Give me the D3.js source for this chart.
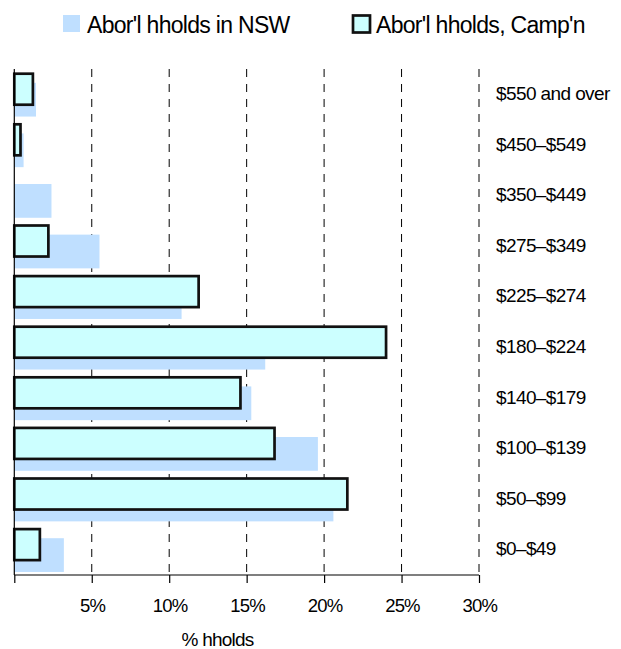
<!DOCTYPE html>
<html>
<head>
<meta charset="utf-8">
<script src="https://d3js.org/d3.v7.min.js"></script>
<style>
  body { margin: 0; background: #fff; }
  text { font-family: "Liberation Sans", Arial, sans-serif; fill: #000; }
</style>
</head>
<body>
<script>
//income bands, top to bottom
var categories = ["$550 and over", "$450–$549", "$350–$449", "$275–$349", "$225–$274",
                  "$180–$224", "$140–$179", "$100–$139", "$50–$99", "$0–$49"];

//% of households in each band
var nswValues  = [1.4, 0.6, 2.4, 5.5, 10.8, 16.2, 15.3, 19.6, 20.6, 3.2];
var campValues = [1.2, 0.4, 0, 2.2, 11.9, 24.0, 14.6, 16.8, 21.5, 1.65];

var xTicks = [0, 5, 10, 15, 20, 25, 30];
var seriesNames = ["Abor'l hholds in NSW", "Abor'l hholds, Camp'n"];

window.onload = drawChart();

function drawChart(){
    var width = 621,
        height = 649;

    var svg = d3.select("body")
        .append("svg")
        .attr("width", width)
        .attr("height", height);

    //scales
    var x = d3.scaleLinear()
        .domain([0, 30])
        .range([14.3, 479]);

    var y = d3.scaleBand()
        .domain(categories)
        .range([69, 575])
        .paddingInner(0)
        .paddingOuter(0);

    var bw = y.bandwidth();

    //dashed gridlines
    svg.selectAll(".grid")
        .data(xTicks.slice(1))
        .enter()
        .append("line")
        .attr("class", "grid")
        .attr("x1", function(d){ return x(d); })
        .attr("x2", function(d){ return x(d); })
        .attr("y1", 69)
        .attr("y2", 575)
        .style("stroke", "#000")
        .style("stroke-width", 1)
        .style("stroke-dasharray", "8,7");

    //NSW bars, behind and lower
    svg.selectAll(".nsw")
        .data(nswValues)
        .enter()
        .append("rect")
        .attr("class", "nsw")
        .attr("x", x(0))
        .attr("y", function(d, i){ return y(categories[i]) + bw * 0.273; })
        .attr("width", function(d){ return x(d) - x(0); })
        .attr("height", bw * 0.667)
        .style("fill", "#bfdfff");

    //Campbelltown bars
    var campData = campValues.map(function(v, i){ return {cat: categories[i], v: v}; })
        .filter(function(d){ return d.v > 0; });

    svg.selectAll(".camp")
        .data(campData)
        .enter()
        .append("rect")
        .attr("class", "camp")
        .attr("x", x(0))
        .attr("y", function(d){ return y(d.cat) + bw * 0.093; })
        .attr("width", function(d){ return x(d.v) - x(0); })
        .attr("height", bw * 0.613)
        .style("fill", "#ccffff")
        .style("stroke", "#111")
        .style("stroke-width", 2.7);

    //left axis line
    svg.append("line")
        .attr("x1", x(0)).attr("x2", x(0))
        .attr("y1", 69).attr("y2", 575)
        .style("stroke", "#000")
        .style("stroke-width", 1.2);

    //bottom axis
    var xAxis = d3.axisBottom(x)
        .tickValues(xTicks)
        .tickSize(8)
        .tickPadding(20)
        .tickFormat(function(d){ return d === 0 ? "" : d + "%"; });

    var gx = svg.append("g")
        .attr("transform", "translate(0,575)")
        .call(xAxis);
    gx.select(".domain").attr("d", "M" + x(0) + ",0H" + x(30)).style("stroke", "#000").style("stroke-width", 1.2);
    gx.selectAll(".tick line").style("stroke", "#000").style("stroke-width", 1.2);
    gx.selectAll(".tick text")
        .style("font-family", "Liberation Sans, Arial, sans-serif")
        .style("font-size", "18.5px")
        .style("letter-spacing", "-0.8px")
        .attr("dx", "0.4px")
        .attr("dy", "0.5em");

    //axis title
    svg.append("text")
        .attr("x", 217.5)
        .attr("y", 646)
        .attr("text-anchor", "middle")
        .style("font-size", "19px")
        .style("letter-spacing", "-0.8px")
        .text("% hholds");

    //category labels on the right
    svg.selectAll(".catLabel")
        .data(categories)
        .enter()
        .append("text")
        .attr("class", "catLabel")
        .attr("x", 496)
        .attr("y", function(d){ return y(d) + bw / 2; })
        .attr("dy", "0.3em")
        .style("font-size", "19px")
        .style("letter-spacing", "-0.6px")
        .text(function(d){ return d; });

    //legend
    svg.append("rect")
        .attr("x", 63).attr("y", 15)
        .attr("width", 17).attr("height", 17)
        .style("fill", "#bfdfff");
    svg.append("text")
        .attr("x", 87).attr("y", 33)
        .style("font-size", "23px")
        .style("letter-spacing", "-0.7px")
        .text(seriesNames[0]);

    svg.append("rect")
        .attr("x", 353).attr("y", 15.5)
        .attr("width", 17).attr("height", 17)
        .style("fill", "#ccffff")
        .style("stroke", "#111")
        .style("stroke-width", 2.7);
    svg.append("text")
        .attr("x", 376).attr("y", 33)
        .style("font-size", "23px")
        .style("letter-spacing", "-0.7px")
        .text(seriesNames[1]);
}
</script>
</body>
</html>
